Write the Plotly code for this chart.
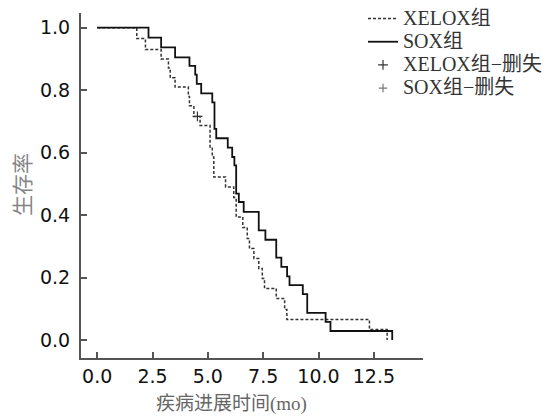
import plotly.graph_objects as go

# XELOX group (dashed) Kaplan-Meier steps
xelox_t = [0, 1.79, 2.18, 2.89, 3.22, 3.30, 3.52, 4.12, 4.17, 4.37, 4.65, 5.10, 5.20, 5.27,
           5.80, 6.17, 6.28, 6.58, 6.78, 6.88, 7.08, 7.30, 7.46, 7.56, 8.09, 8.47, 8.57, 12.30, 13.10]
xelox_s = [1.0, 0.965, 0.930, 0.900, 0.871, 0.840, 0.810, 0.780, 0.750, 0.716, 0.687, 0.618, 0.586, 0.522,
           0.490, 0.456, 0.394, 0.360, 0.325, 0.293, 0.261, 0.229, 0.197, 0.165, 0.133, 0.098, 0.066, 0.034, 0.0]

# SOX group (solid)
sox_t = [0, 2.32, 2.89, 3.52, 4.17, 4.43, 4.50, 4.70, 5.20, 5.30, 5.38, 5.90, 6.10, 6.20, 6.28,
         6.40, 6.62, 7.30, 7.60, 8.09, 8.32, 8.58, 8.69, 9.29, 9.49, 10.32, 10.54, 13.33]
sox_s = [1.0, 0.968, 0.937, 0.905, 0.878, 0.850, 0.820, 0.790, 0.761, 0.676, 0.646, 0.616, 0.586, 0.559, 0.469,
         0.442, 0.410, 0.351, 0.321, 0.264, 0.234, 0.204, 0.176, 0.147, 0.087, 0.058, 0.029, 0.0]

# censored observations
xelox_cens_t = [4.53]
xelox_cens_s = [0.716]
sox_cens_t = [None]
sox_cens_s = [None]

series_names = ["XELOX组", "SOX组", "XELOX组−删失", "SOX组−删失"]

x_ticks = [0.0, 2.5, 5.0, 7.5, 10.0, 12.5]
x_tick_labels = ["0.0", "2.5", "5.0", "7.5", "10.0", "12.5"]
y_ticks = [0.0, 0.2, 0.4, 0.6, 0.8, 1.0]
y_tick_labels = ["0.0", "0.2", "0.4", "0.6", "0.8", "1.0"]

W, H = 558, 416
ML, MB = 81, 58
plot_w = W - ML          # margin r = 0, t = 0
plot_h = H - MB
ax_right_px = 423
ax_top_px = 13


def big(name):
    return '<span style="font-size:20px">' + name + '</span>'


fig = go.Figure()
fig.add_trace(go.Scatter(x=xelox_t, y=xelox_s, mode="lines", line_shape="hv", name=big(series_names[0]),
                         line=dict(color="#333333", width=1.5, dash="3px,2px")))
fig.add_trace(go.Scatter(x=sox_t, y=sox_s, mode="lines", line_shape="hv", name=big(series_names[1]),
                         line=dict(color="#111111", width=1.8)))
fig.add_trace(go.Scatter(x=xelox_cens_t, y=xelox_cens_s, mode="markers", name=big(series_names[2]),
                         marker=dict(symbol="cross-thin", size=7, line=dict(color="#333333", width=1.2))))
fig.add_trace(go.Scatter(x=sox_cens_t, y=sox_cens_s, mode="markers", name=big(series_names[3]),
                         marker=dict(symbol="cross-thin", size=6, line=dict(color="#777777", width=1.2))))

axis_common = dict(showgrid=False, zeroline=False, showline=True, linecolor="#555555", linewidth=2,
                   ticks="inside", ticklen=6, tickwidth=1.5, tickcolor="#555555", automargin=False,
                   tickfont=dict(family="DejaVu Sans", size=19, color="#111111"))

fig.update_layout(
    width=W, height=H,
    margin=dict(l=ML, r=0, t=0, b=MB),
    plot_bgcolor="white", paper_bgcolor="white",
    xaxis=dict(range=[-0.73, 14.72], tickvals=x_ticks, ticktext=x_tick_labels,
               domain=[0, (ax_right_px - ML) / plot_w], **axis_common),
    yaxis=dict(range=[-0.0575, 1.047], tickvals=y_ticks, ticktext=y_tick_labels,
               domain=[0, (H - MB - ax_top_px) / plot_h], ticklabelstandoff=5, **axis_common),
    showlegend=True,
    legend=dict(x=(363 - ML) / plot_w, y=1.0 - 2 / plot_h, xanchor="left", yanchor="top",
                bgcolor="rgba(0,0,0,0)",
                font=dict(family="Liberation Serif, Noto Sans CJK SC", size=15.5, color="#333333"),
                itemwidth=30, tracegroupgap=0),
    annotations=[
        dict(text="疾病进展时间(mo)", xref="paper", yref="paper", x=(231 - ML) / plot_w,
             y=-(404 - (H - MB)) / plot_h, xanchor="center", yanchor="middle", showarrow=False,
             font=dict(family="Liberation Serif, Noto Sans CJK SC", size=19, color="#666666")),
        dict(text="生存率", xref="paper", yref="paper", x=(23 - ML) / plot_w,
             y=((H - MB) - 185) / plot_h, textangle=-90,
             xanchor="center", yanchor="middle", showarrow=False,
             font=dict(family="Liberation Serif, Noto Sans CJK SC", size=21, color="#858585")),
    ],
)

fig.write_html("out.html", config={"displayModeBar": False},
               post_script="document.body.style.margin='0';")
